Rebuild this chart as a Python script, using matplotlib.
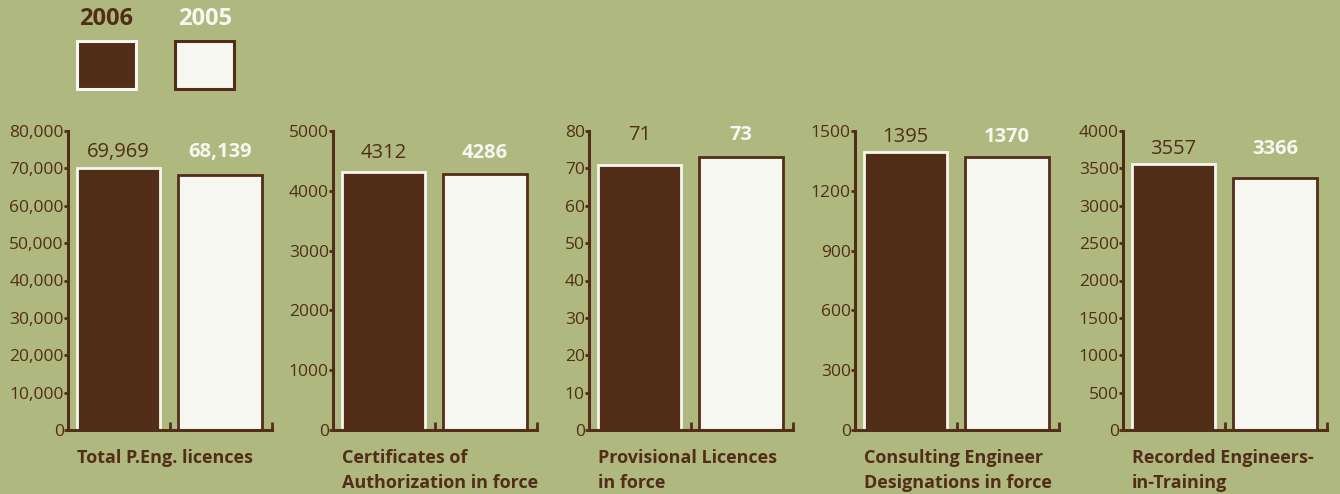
import matplotlib
matplotlib.use("Agg")
import matplotlib.pyplot as plt
from matplotlib.ticker import FuncFormatter, MultipleLocator
from matplotlib.patches import Rectangle

# ── Data ──────────────────────────────────────────────────────────────────────
categories = [
    "Total P.Eng. licences",
    "Certificates of\nAuthorization in force",
    "Provisional Licences\nin force",
    "Consulting Engineer\nDesignations in force",
    "Recorded Engineers-\nin-Training",
]
values_2006 = [69969, 4312, 71, 1395, 3557]
values_2005 = [68139, 4286, 73, 1370, 3366]
y_max = [80000, 5000, 80, 1500, 4000]
y_step = [10000, 1000, 10, 300, 500]
label_2006 = ["69,969", "4312", "71", "1395", "3557"]
label_2005 = ["68,139", "4286", "73", "1370", "3366"]
years = ["2006", "2005"]

# ── Style ─────────────────────────────────────────────────────────────────────
BG = "#AFB97F"
BROWN = "#522D18"
WHITE = "#F5F7F0"
plt.rcParams["font.family"] = ["Open Sans", "DejaVu Sans"]

W, H = 1340, 494
fig = plt.figure(figsize=(W / 100, H / 100), dpi=100, facecolor=BG)

axes_left_px = [68, 333, 589, 855, 1123]
axes_w_px = 204
axes_bottom_px = 430
axes_h_px = 299
value_label_y = [0.93, 0.926, 0.987, 0.98, 0.94]

for i, cat in enumerate(categories):
    ax = fig.add_axes([axes_left_px[i] / W, 1 - axes_bottom_px / H,
                       axes_w_px / W, axes_h_px / H])
    ax.set_facecolor("none")
    ax.set_xlim(0, 2)
    ax.set_ylim(0, y_max[i])

    ax.bar([0.495], [values_2006[i]], width=0.815, color=BROWN,
           edgecolor=WHITE, linewidth=2.0, zorder=3)
    ax.bar([1.49], [values_2005[i]], width=0.815, color=WHITE,
           edgecolor=BROWN, linewidth=2.0, zorder=3)

    ax.text(0.495, value_label_y[i], label_2006[i], transform=ax.get_xaxis_transform(),
            ha="center", va="center", fontsize=14.5, color=BROWN)
    ax.text(1.49, value_label_y[i], label_2005[i], transform=ax.get_xaxis_transform(),
            ha="center", va="center", fontsize=14.5, color=WHITE, fontweight="bold")

    for s in ["top", "right"]:
        ax.spines[s].set_visible(False)
    for s in ["left", "bottom"]:
        ax.spines[s].set_color(BROWN)
        ax.spines[s].set_linewidth(2.2)
        ax.spines[s].set_zorder(4)

    ax.yaxis.set_major_locator(MultipleLocator(y_step[i]))
    if i == 0:
        ax.yaxis.set_major_formatter(FuncFormatter(lambda v, p: f"{int(v):,}"))
    else:
        ax.yaxis.set_major_formatter(FuncFormatter(lambda v, p: f"{int(v)}"))
    ax.tick_params(axis="y", colors=BROWN, labelcolor=BROWN, labelsize=12.5,
                   length=3, width=2, pad=0)
    ax.set_xticks([1, 2])
    ax.set_xticklabels([])
    ax.tick_params(axis="x", direction="in", colors=BROWN, length=6, width=2)

    ax.text(0.045, -0.065, cat, transform=ax.transAxes, ha="left", va="top",
            fontsize=13, fontweight="bold", color=BROWN, linespacing=1.5)

# ── Legend ────────────────────────────────────────────────────────────────────
fig.text(106 / W, 1 - 19 / H, years[0], ha="center", va="center",
         fontsize=17, fontweight="bold", color=BROWN)
fig.text(205 / W, 1 - 19 / H, years[1], ha="center", va="center",
         fontsize=17, fontweight="bold", color=WHITE)
fig.patches.append(Rectangle((77 / W, 1 - 89 / H), 59 / W, 48 / H,
                             transform=fig.transFigure, facecolor=BROWN,
                             edgecolor=WHITE, linewidth=2.2))
fig.patches.append(Rectangle((175 / W, 1 - 89 / H), 59 / W, 48 / H,
                             transform=fig.transFigure, facecolor=WHITE,
                             edgecolor=BROWN, linewidth=2.2))

fig.savefig("out.png", dpi=100, facecolor=BG)
